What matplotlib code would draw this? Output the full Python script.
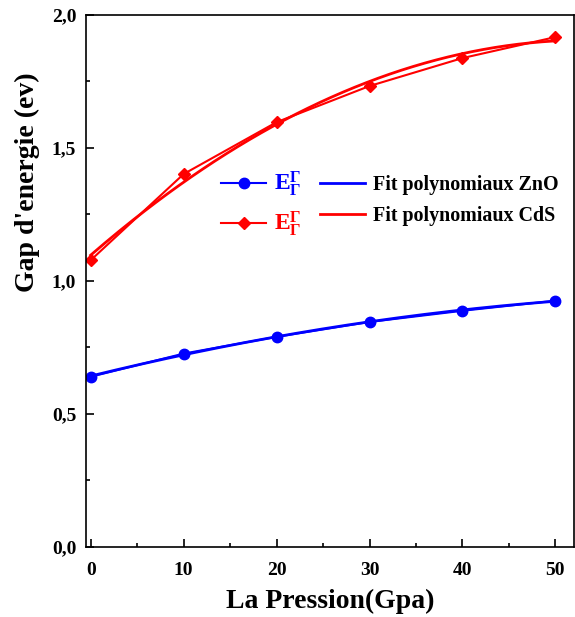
import numpy as np
import matplotlib.pyplot as plt
from matplotlib.ticker import MultipleLocator, FuncFormatter

pression = [0, 10, 20, 30, 40, 50]
gap_zno = [0.640, 0.727, 0.790, 0.846, 0.888, 0.926]
gap_cds = [1.078, 1.402, 1.597, 1.733, 1.838, 1.917]

plt.rcParams['font.family'] = ['Liberation Serif', 'DejaVu Serif']
plt.rcParams['font.weight'] = 'bold'
plt.rcParams['mathtext.fontset'] = 'custom'
plt.rcParams['mathtext.rm'] = 'Liberation Serif:bold'
plt.rcParams['mathtext.it'] = 'Liberation Serif:bold'
plt.rcParams['mathtext.bf'] = 'Liberation Serif:bold'

fig = plt.figure(figsize=(5.75, 6.17), dpi=100)
ax = fig.add_axes([0.1496, 0.1135, 0.8487, 0.8622])

# quadratic fits
xs = np.linspace(0, 50, 200)
fit_zno = np.polyval(np.polyfit(pression, gap_zno, 2), xs)
fit_cds = np.polyval(np.polyfit(pression, gap_cds, 2), xs)

l1, = ax.plot(pression, gap_zno, color='blue', marker='o', markersize=7.5, lw=1.5,
              label=r'$\mathregular{E_\Gamma^\Gamma}$')
l2, = ax.plot(pression, gap_cds, color='red', marker='D', markersize=6.5, lw=1.5,
              label=r'$\mathregular{E_\Gamma^\Gamma}$')
l3, = ax.plot(xs, fit_zno, color='blue', lw=2, label='Fit polynomiaux ZnO')
l4, = ax.plot(xs, fit_cds, color='red', lw=2, label='Fit polynomiaux CdS')

ax.set_xlim(-0.5, 52)
ax.set_ylim(0, 2.0)
ax.xaxis.set_major_locator(MultipleLocator(10))
ax.xaxis.set_minor_locator(MultipleLocator(5))
ax.yaxis.set_major_locator(MultipleLocator(0.5))
ax.yaxis.set_minor_locator(MultipleLocator(0.25))
ax.yaxis.set_major_formatter(FuncFormatter(lambda v, p: f'{v:.1f}'.replace('.', ',')))
ax.tick_params(which='both', direction='in', labelsize=14, width=1.2)
ax.tick_params(which='major', length=6)
ax.tick_params(which='minor', length=3)
ax.tick_params(axis='x', pad=11)
ax.tick_params(axis='y', pad=7)
for s in ax.spines.values():
    s.set_linewidth(1.2)

ax.set_xlabel('La Pression(Gpa)', fontsize=20, fontweight='bold', labelpad=7)
ax.set_ylabel("Gap d'energie (ev)", fontsize=20, fontweight='bold')
ax.yaxis.set_label_coords(-0.094, 0.686)

leg = ax.legend(handles=[l1, l2, l3, l4], ncol=2, frameon=False, fontsize=14.4,
                loc='upper left', bbox_to_anchor=(0.24, 0.745),
                handlelength=2.25, columnspacing=0.9, handletextpad=0.4,
                labelspacing=0.55)
for txt, c in zip(leg.get_texts(), ['blue', 'red', 'black', 'black']):
    txt.set_color(c)
leg.get_texts()[0].set_fontsize(17)
leg.get_texts()[1].set_fontsize(17)

fig.savefig('out.png', dpi=100)
